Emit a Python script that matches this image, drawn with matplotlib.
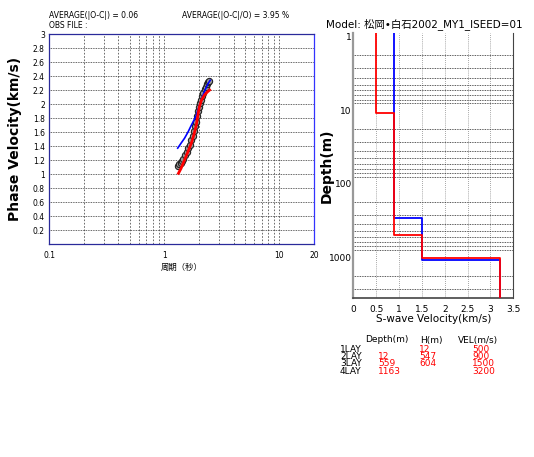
import matplotlib
matplotlib.use("Agg")
import matplotlib.pyplot as plt

plt.rcParams['font.family'] = ['DejaVu Sans', 'Noto Sans CJK JP']

# observed / initial / final dispersion curves (period s, phase velocity km/s)
obs_period = [1.31, 1.35, 1.39, 1.43, 1.47, 1.52, 1.57, 1.62, 1.67, 1.72, 1.77, 1.82, 1.86,
              1.90, 1.94, 1.98, 2.02, 2.06, 2.10, 2.14, 2.19, 2.24, 2.29, 2.34, 2.40, 2.46]
obs_vel = [1.12, 1.14, 1.16, 1.19, 1.22, 1.27, 1.32, 1.37, 1.42, 1.48, 1.55, 1.62, 1.68,
           1.75, 1.83, 1.90, 1.96, 2.01, 2.06, 2.11, 2.16, 2.21, 2.25, 2.28, 2.31, 2.33]
init_period = [1.31, 1.40, 1.50, 1.61, 1.70, 1.80, 1.90, 2.00, 2.10, 2.20, 2.32, 2.42, 2.51]
init_vel = [1.37, 1.44, 1.51, 1.60, 1.68, 1.76, 1.84, 1.96, 2.06, 2.15, 2.24, 2.30, 2.34]
fin_period = [1.33, 1.40, 1.50, 1.60, 1.72, 1.81, 1.90, 1.96, 2.02, 2.10, 2.24, 2.36, 2.48]
fin_vel = [1.01, 1.08, 1.20, 1.31, 1.44, 1.56, 1.70, 1.84, 1.96, 2.05, 2.13, 2.17, 2.20]

# velocity models: layer tops (m) and S velocities (km/s)
init_top = [1, 330, 1210]
init_vs = [0.9, 1.5, 3.2]
fin_top = [1, 12, 559, 1163]
fin_vs = [0.5, 0.9, 1.5, 3.2]
max_depth = 4000

# layer table
lay_names = ["1LAY", "2LAY", "3LAY", "4LAY"]
lay_depth = ["", "12", "559", "1163"]
lay_h = ["12", "547", "604", ""]
lay_vel = ["500", "900", "1500", "3200"]

fig = plt.figure(figsize=(5.34, 4.57), dpi=100)

# ---------------- dispersion curve ----------------
ax = fig.add_axes([0.0918, 0.466, 0.4963, 0.4595])
ax.set_xscale("log")
ax.set_xlim(0.1, 20)
ax.set_ylim(0, 3)
for d in [0.1, 1]:
    for k in range(2, 11):
        ax.axvline(d * k, color="#555555", lw=0.6, ls=(0, (2, 2)), zorder=1)
for v in [0.2 * i for i in range(1, 15)]:
    ax.axhline(v, color="#333333", lw=0.6, ls=(0, (1, 1)), zorder=1)
ax.plot(obs_period, obs_vel, "o", ms=4.5, mfc="#999999", mec="#222222", mew=0.8, zorder=3)
ax.plot(init_period, init_vel, color="blue", lw=1.2, zorder=4)
ax.plot(fin_period, fin_vel, color="red", lw=2.0, zorder=5)
ax.set_xticks([0.1, 1, 10, 20])
ax.set_xticklabels(["0.1", "1", "10", "20"])
ax.minorticks_off()
ax.set_yticks([0.2 * i for i in range(1, 16)])
ax.set_yticklabels(["%g" % round(0.2 * i, 1) for i in range(1, 16)])
ax.tick_params(length=0, labelsize=5.5, pad=5)
ax.tick_params(axis="y", pad=3)
for s in ax.spines.values():
    s.set_color("#2a2a9a")
    s.set_linewidth(0.9)
ax.spines["right"].set_color("#3333ff")
ax.set_ylabel("Phase Velocity(km/s)", fontsize=10, fontweight="bold", labelpad=8)
ax.set_xlabel("周期（秒）", fontsize=6, labelpad=2)

fig.text(49 / 534, 1 - 15 / 457, "AVERAGE(|O-C|) = 0.06", fontsize=5.5, va="center")
fig.text(182 / 534, 1 - 15 / 457, "AVERAGE(|O-C|/O) = 3.95 %", fontsize=5.5, va="center")
fig.text(49 / 534, 1 - 26 / 457, "OBS FILE :", fontsize=5.5, va="center")

# ---------------- velocity model ----------------
ax2 = fig.add_axes([0.6616, 0.3486, 0.2996, 0.5785])
ax2.set_yscale("log")
ax2.set_xlim(0, 3.5)
ax2.set_ylim(max_depth, 1)
for v in [0.5, 1, 1.5, 2, 2.5, 3]:
    ax2.axvline(v, color="#888888", lw=0.6, ls=(0, (1, 1.5)), zorder=1)
for d in [1, 10, 100, 1000]:
    for k in range(2, 10):
        if d * k < max_depth:
            ax2.axhline(d * k, color="#222222", lw=0.6, ls=(0, (1, 1)), zorder=1)


def step_model(tops, vs):
    xs, ys = [], []
    bottoms = tops[1:] + [max_depth]
    for t, b, v in zip(tops, bottoms, vs):
        xs += [v, v]
        ys += [t, b]
    return xs, ys


x_i, y_i = step_model(init_top, init_vs)
x_f, y_f = step_model(fin_top, fin_vs)
ax2.plot(x_i, y_i, color="blue", lw=1.3, zorder=3)
ax2.plot(x_f, y_f, color="red", lw=1.3, zorder=4)
ax2.set_xticks([0, 0.5, 1, 1.5, 2, 2.5, 3, 3.5])
ax2.set_xticklabels(["0", "0.5", "1", "1.5", "2", "2.5", "3", "3.5"])
ax2.set_yticks([1, 10, 100, 1000])
ax2.set_yticklabels(["1", "10", "100", "1000"])
ax2.minorticks_off()
ax2.tick_params(length=0, labelsize=6.5, pad=1)
ax2.tick_params(axis="x", pad=5)
for lbl in ax2.get_yticklabels():
    lbl.set_va("top")
ax2.spines["top"].set_visible(False)
ax2.spines["left"].set_color("#999999")
ax2.spines["left"].set_linewidth(1.6)
ax2.spines["right"].set_color("#444444")
ax2.spines["bottom"].set_color("#444444")
ax2.spines["bottom"].set_linewidth(1.2)
ax2.set_ylabel("Depth(m)", fontsize=10, fontweight="bold")
ax2.yaxis.set_label_coords(-0.12, 0.5)
ax2.set_xlabel("S-wave Velocity(km/s)", fontsize=7.5, labelpad=0)
fig.text(326 / 534, 1 - 24 / 457, "Model: 松岡•白石2002_MY1_ISEED=01", fontsize=7.5, va="center")

# layer table
fig.text(365 / 534, 1 - 340 / 457, "Depth(m)", fontsize=6.5, va="center")
fig.text(420 / 534, 1 - 340 / 457, "H(m)", fontsize=6.5, va="center")
fig.text(458 / 534, 1 - 340 / 457, "VEL(m/s)", fontsize=6.5, va="center")
for i, name in enumerate(lay_names):
    y = 1 - (349 + 7.5 * i) / 457
    fig.text(340 / 534, y, name, fontsize=6.5, va="center")
    fig.text(378 / 534, y, lay_depth[i], fontsize=6.5, va="center", color="red")
    fig.text(419 / 534, y, lay_h[i], fontsize=6.5, va="center", color="red")
    fig.text(472 / 534, y, lay_vel[i], fontsize=6.5, va="center", color="red")

fig.savefig("out.png", dpi=100)
